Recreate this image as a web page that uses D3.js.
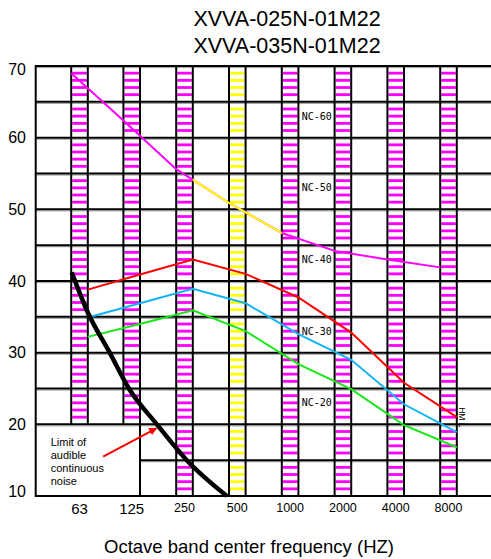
<!DOCTYPE html>
<html>
<head>
<meta charset="utf-8">
<script src="https://cdn.jsdelivr.net/npm/d3@7"></script>
<style>
body { margin: 0; background: #fff; }
text { font-family: "Liberation Sans", Arial, sans-serif; fill: #000; }
</style>
</head>
<body>
<div id="chart"></div>
<script>
'use strict'

// octave bands (Hz) and levels (dB)
const bands = [63, 125, 250, 500, 1000, 2000, 4000, 8000]
const yTicks = [10, 20, 30, 40, 50, 60, 70]
const gridLevels = [10, 15, 20, 25, 30, 35, 40, 45, 50, 55, 60, 65, 70]
const ncLevels = [60, 50, 40, 30, 20]
const titleLines = ["XVVA-025N-01M22", "XVVA-035N-01M22"]
const limitLabel = ["Limit of", "audible", "continuous", "noise"]

// sound pressure per band
const refCurve = [69.0, 62.4, 55.6, 50.9, 46.7, 44.2, 43.0, 41.9]
const high = [38.8, 40.9, 43.0, 41.0, 37.7, 32.8, 25.8, 21.0]
const mid = [34.9, 36.9, 38.9, 36.9, 32.6, 29.0, 22.8, 18.9]
const low = [32.2, 34.0, 35.9, 33.0, 28.4, 24.9, 19.9, 16.8]

// limit of audible continuous noise
const limitFreq = [51, 63, 84, 108, 156, 231, 391]
const limitDb = [41.2, 35.6, 30, 25, 20, 15, 10]

////////////////////////////////////
//////////// svg setup /////////////
////////////////////////////////////
const svgWidth = 491
const svgHeight = 559
const plot = { left: 35.7, top: 66, bottom: 496, right: 491 }
const barW = 16.6

const svg = d3.select('#chart')
    .append('svg')
    .attr('width', svgWidth)
    .attr('height', svgHeight)

// band line = right edge of each striped column
const x = d3.scaleLog().base(2)
    .domain([62.5, 8000])
    .range([87.2, 456.8])

const y = d3.scaleLinear()
    .domain([10, 70])
    .range([plot.bottom, plot.top])

const barBottom = f => f <= 125 ? 20 : 10
const boxRight = x(125)

////////////////////////////////////
//////////// striped bars //////////
////////////////////////////////////
const stripes = []
bands.forEach(f => {
    for (let v = barBottom(f) + 1; v < 70; v++) {
        if (v % 5) stripes.push({ f: f, v: v })
    }
})

svg.append('g')
    .selectAll('rect')
    .data(stripes)
    .join('rect')
    .attr('x', d => x(d.f) - barW + 1)
    .attr('width', barW - 2)
    .attr('y', d => y(d.v) - 1.4)
    .attr('height', 2.8)
    .attr('fill', d => d.f === 500 ? '#ffff00' : '#ff00ff')

////////////////////////////////////
//////////// grid //////////////////
////////////////////////////////////
const hStart = v => (v > 10 && v < 20) ? boxRight : plot.left

// gray shadow under each grid line
svg.append('g')
    .selectAll('line')
    .data(gridLevels.filter(v => v > 10))
    .join('line')
    .attr('x1', hStart)
    .attr('x2', plot.right)
    .attr('y1', d => y(d) + 1.6)
    .attr('y2', d => y(d) + 1.6)
    .attr('stroke', '#a0a0a0')
    .attr('stroke-width', 1)

svg.append('g')
    .selectAll('line')
    .data(gridLevels)
    .join('line')
    .attr('x1', hStart)
    .attr('x2', plot.right)
    .attr('y1', d => y(d))
    .attr('y2', d => y(d))
    .attr('stroke', '#000')
    .attr('stroke-width', 2)

const edges = []
bands.forEach(f => {
    edges.push(x(f) - barW)
    edges.push(x(f))
})

svg.append('g')
    .selectAll('line')
    .data(edges)
    .join('line')
    .attr('x1', d => d)
    .attr('x2', d => d)
    .attr('y1', y(70))
    .attr('y2', d => d < boxRight - 1 ? y(20) : y(10))
    .attr('stroke', '#000')
    .attr('stroke-width', 2)

svg.append('line')
    .attr('x1', plot.left).attr('x2', plot.left)
    .attr('y1', y(70) - 1).attr('y2', y(10) + 1)
    .attr('stroke', '#000')
    .attr('stroke-width', 2)

////////////////////////////////////
//////////// curves ////////////////
////////////////////////////////////
const curve = offset => d3.line()
    .x((d, i) => x(bands[i]) + offset)
    .y(d => y(d))

svg.append('defs').append('clipPath')
    .attr('id', 'mid-band')
    .append('rect')
    .attr('x', x(250))
    .attr('width', x(1000) - barW - x(250))
    .attr('y', 0)
    .attr('height', svgHeight)

svg.append('path')
    .datum(refCurve)
    .attr('d', curve(-barW))
    .attr('fill', 'none')
    .attr('stroke', '#ff00ff')
    .attr('stroke-width', 2)

svg.append('path')
    .datum(refCurve)
    .attr('d', curve(-barW))
    .attr('clip-path', 'url(#mid-band)')
    .attr('fill', 'none')
    .attr('stroke', '#ffff00')
    .attr('stroke-width', 2)

const series = [
    { values: low, color: '#18e818' },
    { values: mid, color: '#12b4f5' },
    { values: high, color: '#ff0000' }
]

svg.append('g')
    .selectAll('path')
    .data(series)
    .join('path')
    .attr('d', d => curve(0)(d.values))
    .attr('fill', 'none')
    .attr('stroke', d => d.color)
    .attr('stroke-width', 2)

// audible limit
const limitLine = d3.line()
    .curve(d3.curveMonotoneX)
    .x((d, i) => x(limitFreq[i]))
    .y(d => y(d))

svg.append('path')
    .datum(limitDb)
    .attr('d', limitLine)
    .attr('fill', 'none')
    .attr('stroke', '#000')
    .attr('stroke-width', 4.5)

////////////////////////////////////
//////////// labels ////////////////
////////////////////////////////////
svg.append('g')
    .selectAll('text')
    .data(ncLevels)
    .join('text')
    .attr('x', x(1000) + 3.3)
    .attr('y', d => y(d + 3))
    .attr('dominant-baseline', 'central')
    .style('font-family', '"DejaVu Sans Mono", monospace')
    .attr('font-size', 10)
    .attr('fill', '#222')
    .text(d => 'NC-' + d)

svg.append('text')
    .attr('transform', `translate(${x(8000) + 2},${y(22.4)}) rotate(90)`)
    .attr('font-size', 8.5)
    .text('HM L')

svg.append('g')
    .selectAll('text')
    .data(yTicks)
    .join('text')
    .attr('x', 26)
    .attr('y', d => Math.min(Math.max(y(d), 69), 491))
    .attr('dominant-baseline', 'central')
    .attr('text-anchor', 'end')
    .attr('font-size', 16)
    .text(d => d)

svg.append('g')
    .selectAll('text')
    .data(bands)
    .join('text')
    .attr('x', d => x(d) - barW / 2)
    .attr('y', d => d <= 125 ? 513.5 : 511.5)
    .attr('text-anchor', 'middle')
    .attr('font-size', d => d <= 125 ? 15 : 12.5)
    .text(d => d)

svg.append('text')
    .attr('x', 249)
    .attr('y', 553)
    .attr('text-anchor', 'middle')
    .attr('font-size', 18.5)
    .text('Octave band center frequency (HZ)')

svg.append('g')
    .selectAll('text')
    .data(titleLines)
    .join('text')
    .attr('x', 287)
    .attr('y', (d, i) => 25.5 + i * 27.5)
    .attr('text-anchor', 'middle')
    .attr('font-size', 21.5)
    .text(d => d)

svg.append('g')
    .selectAll('text')
    .data(limitLabel)
    .join('text')
    .attr('x', 50.7)
    .attr('y', (d, i) => 445.5 + i * 13)
    .attr('font-size', 11)
    .text(d => d)

// arrow to the limit curve
svg.select('defs').append('marker')
    .attr('id', 'head')
    .attr('viewBox', '0 0 10 10')
    .attr('refX', 9).attr('refY', 5)
    .attr('markerWidth', 4).attr('markerHeight', 4)
    .attr('orient', 'auto')
    .append('path')
    .attr('d', 'M0,0L10,5L0,10Z')
    .attr('fill', '#ff0000')

svg.append('line')
    .attr('x1', x(77)).attr('y1', y(15.5))
    .attr('x2', x(155)).attr('y2', y(19.45))
    .attr('stroke', '#ff0000')
    .attr('stroke-width', 2)
    .attr('marker-end', 'url(#head)')
</script>
</body>
</html>
